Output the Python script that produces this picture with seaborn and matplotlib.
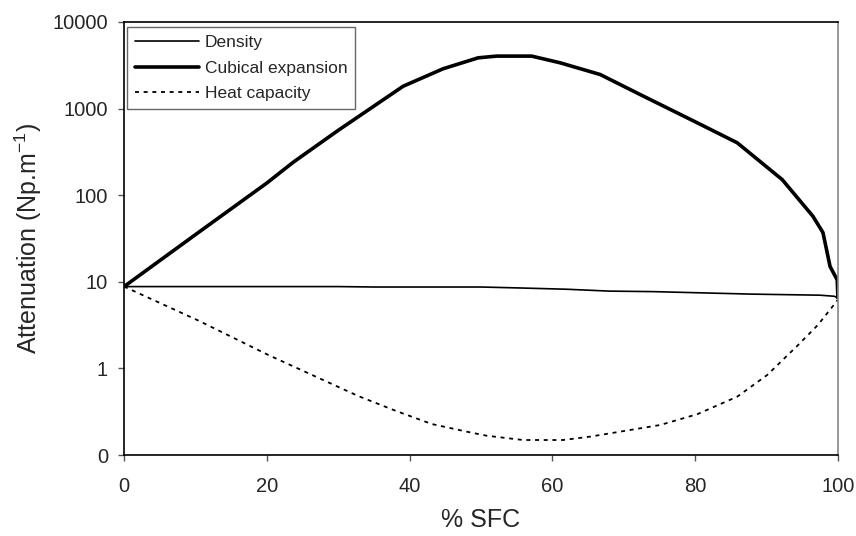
import matplotlib as mpl
mpl.use('Agg')
from matplotlib import pyplot as plt
import seaborn as sb
import numpy as np

# values (x = % SFC, y = attenuation in Np/m)
dens_x = [0, 10, 20, 30, 35, 50, 55, 62, 68, 74, 88, 97.5, 99.5, 100]
dens_y = [8.8, 8.8, 8.8, 8.8, 8.7, 8.7, 8.5, 8.2, 7.8, 7.7, 7.2, 7.0, 6.8, 6.5]

cub_x = [0, 10, 20, 23.7, 30, 34.5, 39.1, 44.7, 49.6, 52.2, 57.1, 61.1, 66.7,
         72.3, 80.3, 85.9, 92.2, 96.5, 97.9, 98.9, 99.9, 100]
cub_y = [8.8, 35, 138, 240, 560, 1000, 1810, 2880, 3850, 4030, 4030, 3370, 2470,
         1450, 684, 402, 151, 57, 37, 15, 10.5, 6.5]

heat_x = [0, 10.4, 20.2, 32.8, 38, 43.1, 48, 50.8, 55.9, 61.5, 65.3, 75.1,
          80.3, 85.9, 90.1, 94.3, 97.2, 100]
heat_y = [8.8, 3.57, 1.43, 0.48, 0.325, 0.228, 0.186, 0.167, 0.149, 0.149, 0.163,
          0.222, 0.296, 0.472, 0.84, 1.82, 3.18, 6.2]

yticks = [0.1, 1, 10, 100, 1000, 10000]
yticklabels = ["0", "1", "10", "100", "1000", "10000"]
xticks = [0, 20, 40, 60, 80, 100]

sb.set_style("white")
plt.rcParams['font.family'] = ['Liberation Sans', 'DejaVu Sans']
plt.rcParams['mathtext.fontset'] = 'custom'
plt.rcParams['mathtext.rm'] = 'Liberation Sans'

fig = plt.figure(figsize=(8.56, 5.36), dpi=100)
ax = fig.add_axes([0.1449, 0.1511, 0.834, 0.808])

sb.lineplot(x=dens_x, y=dens_y, ax=ax, color='black', lw=1.2, label="Density", estimator=None)
sb.lineplot(x=cub_x, y=cub_y, ax=ax, color='black', lw=2.6, label="Cubical expansion", estimator=None)
sb.lineplot(x=heat_x, y=heat_y, ax=ax, color='black', lw=1.3, label="Heat capacity",
            estimator=None, linestyle=(0, (2.2, 2.6)))

ax.set_yscale('log')
ax.set_ylim(0.1, 10000)
ax.set_xlim(0, 100)
ax.set_yticks(yticks)
ax.set_yticklabels(yticklabels)
ax.yaxis.set_minor_locator(mpl.ticker.NullLocator())
ax.set_xticks(xticks)
ax.tick_params(axis='both', labelsize=14.5, length=4.5, width=1, color='#555555',
               direction='out', left=True, bottom=True)
ax.tick_params(axis='x', pad=11)
ax.tick_params(axis='y', pad=7)

for s in ('left', 'bottom', 'top'):
    ax.spines[s].set_color('black')
    ax.spines[s].set_linewidth(1.2)
ax.spines['right'].set_color('#888888')
ax.spines['right'].set_linewidth(1.2)

ax.set_xlabel("% SFC", fontsize=18, labelpad=9)
ax.set_ylabel(r"Attenuation (Np.m$^{\mathregular{-1}}$)", fontsize=18, labelpad=6)

leg = ax.legend(loc='upper left', bbox_to_anchor=(0.004, 0.988), fontsize=12.5,
                handlelength=3.7, handletextpad=0.35, labelspacing=0.6,
                borderpad=0.45, borderaxespad=0, fancybox=False, framealpha=1)
leg.get_frame().set_edgecolor('#666666')
leg.get_frame().set_linewidth(1.0)

fig.savefig('out.png', dpi=100)
